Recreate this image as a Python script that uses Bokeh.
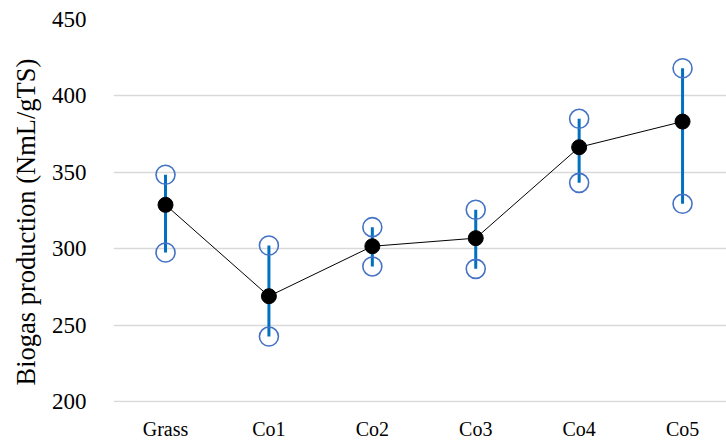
from bokeh.plotting import figure
from bokeh.models import Range1d, FixedTicker, ColumnDataSource, Title
from bokeh.embed import file_html
from bokeh.resources import INLINE

categories = ["Grass", "Co1", "Co2", "Co3", "Co4", "Co5"]
mean_vals = [328.7, 268.9, 301.6, 306.9, 366.4, 383.2]
upper_vals = [348.4, 302.1, 314.1, 325.5, 385.0, 418.1]
lower_vals = [297.5, 242.5, 288.4, 286.8, 343.1, 329.4]
y_ticks = [200, 250, 300, 350, 400, 450]
y_title = "Biogas production (NmL/gTS)"

xs = list(range(len(categories)))
src = ColumnDataSource(dict(x=xs, mean=mean_vals, up=upper_vals, lo=lower_vals))

p = figure(width=726, height=440, output_backend="svg", toolbar_location=None,
           x_range=Range1d(-0.503, 5.425), y_range=Range1d(199.35, 450),
           frame_width=613, frame_height=383,
           min_border_left=113, min_border_right=0, min_border_top=19, min_border_bottom=38)
p.outline_line_color = None
p.background_fill_color = "white"
p.border_fill_color = "white"

p.segment(x0="x", y0="lo", x1="x", y1="up", source=src, line_color="#0070C0", line_width=3)
p.scatter(x="x", y="up", source=src, marker="circle", size=19, fill_color=None,
          line_color="#4472C4", line_width=1.6)
p.scatter(x="x", y="lo", source=src, marker="circle", size=19, fill_color=None,
          line_color="#4472C4", line_width=1.6)
p.line(x="x", y="mean", source=src, line_color="black", line_width=1)
p.scatter(x="x", y="mean", source=src, marker="circle", size=15, fill_color="black",
          line_color="black")

p.xgrid.visible = False
p.ygrid.grid_line_color = "#d9d9d9"
p.ygrid.grid_line_width = 1.5
p.yaxis.ticker = FixedTicker(ticks=y_ticks)
p.xaxis.ticker = FixedTicker(ticks=xs)
p.xaxis.major_label_overrides = {i: c for i, c in enumerate(categories)}

for ax in (p.xaxis, p.yaxis):
    ax.axis_line_color = None
    ax.major_tick_line_color = None
    ax.minor_tick_line_color = None
    ax.major_label_text_font = "Liberation Serif"
    ax.major_label_text_color = "black"

p.xaxis.major_label_text_font_size = "20px"
p.yaxis.major_label_text_font_size = "23px"
p.yaxis.major_label_standoff = 21
p.xaxis.major_label_standoff = 9

title = Title(text=y_title, align="left", offset=17, standoff=16,
              text_font="Liberation Serif", text_font_size="26.5px",
              text_font_style="normal", text_color="black")
p.add_layout(title, "left")

open("out.html", "w").write(file_html(p, INLINE))
